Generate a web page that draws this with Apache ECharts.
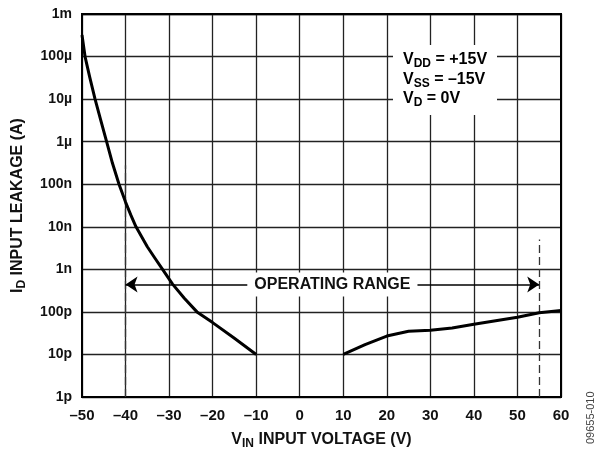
<!DOCTYPE html>
<html><head><meta charset="utf-8">
<script src="https://cdn.jsdelivr.net/npm/echarts@6/dist/echarts.min.js"></script>
<style>html,body{margin:0;padding:0;background:#fff}#c{width:599px;height:450px}</style>
</head><body><div id="c"></div>
<script>
// Data
const xTicks = [-50, -40, -30, -20, -10, 0, 10, 20, 30, 40, 50, 60];
const yTickLabels = ['1p', '10p', '100p', '1n', '10n', '100n', '1µ', '10µ', '100µ', '1m'];
const leftV = [-50, -49.3, -48.2, -47.0, -45.7, -44.35, -43.0, -41.5, -40, -38.8, -37.6, -35, -33.2, -31.5, -29.2, -26.5, -23.6, -20, -15, -10];
const leftI = [3.2e-4, 1e-4, 3.2e-5, 1e-5, 3.2e-6, 1e-6, 3.1e-7, 1e-7, 3.8e-8, 1.9e-8, 1e-8, 3.4e-9, 1.8e-9, 1e-9, 4.5e-10, 2.1e-10, 1e-10, 5.6e-11, 2.4e-11, 1e-11];
const rightV = [10, 15, 20, 25, 30, 35, 40, 45, 50, 55, 60];
const rightI = [1e-11, 1.7e-11, 2.7e-11, 3.5e-11, 3.7e-11, 4.2e-11, 5.1e-11, 6.2e-11, 7.5e-11, 9.5e-11, 1.08e-10];
const rangeStart = -40, rangeEnd = 55, rangeMid = 7.5;
const rangeLevel = 4.4e-10;
const dashTopLeft = 2.8e-7, dashTopRight = 5e-9;
const conditions = ['{m|V}{s|DD}{m| = +15V}', '{m|V}{s|SS}{m| = –15V}', '{m|V}{s|D}{m| = 0V}'];

const font = 'Liberation Sans, Arial, sans-serif';
const chart = echarts.init(document.getElementById('c'));
const fmtX = v => v < 0 ? '–' + Math.abs(v) : String(v);
const fmtY = v => yTickLabels[Math.round(Math.log10(v)) + 12] || '';
const subRich = {
  m: {fontFamily: font, fontWeight: 'bold', fontSize: 16, color: '#111'},
  s: {fontFamily: font, fontWeight: 'bold', fontSize: 12, color: '#111', padding: [8, 0, 0, 0]}
};

chart.setOption({
  animation: false,
  grid: {left: 82, right: 38, top: 14, bottom: 53, show: true, borderColor: '#000', borderWidth: 2, z: 3,
         containLabel: false, outerBoundsMode: 'none'},
  xAxis: {
    type: 'value', min: -50, max: 60, interval: 10,
    axisLine: {show: false}, axisTick: {show: false},
    axisLabel: {formatter: fmtX, fontFamily: font, fontWeight: 'bold', fontSize: 15, color: '#111', margin: 11},
    splitLine: {show: true, lineStyle: {color: '#222', width: 1.3}},
    name: '{m|V}{s|IN}{m| INPUT VOLTAGE (V)}', nameLocation: 'middle', nameGap: 33,
    nameTextStyle: {rich: subRich}
  },
  yAxis: {
    type: 'log', logBase: 10, min: 1e-12, max: 1e-3, interval: 1,
    axisLine: {show: false}, axisTick: {show: false},
    axisLabel: {formatter: fmtY, fontFamily: font, fontWeight: 'bold', fontSize: 14, color: '#111', margin: 10},
    splitLine: {show: true, lineStyle: {color: '#222', width: 1.3}},
    name: '{m|I}{s|D}{m| INPUT LEAKAGE (A)}', nameLocation: 'middle', nameGap: 54, nameRotate: 90,
    nameTextStyle: {rich: subRich}
  },
  series: [
    {type: 'line', data: leftV.map((v, i) => [v, leftI[i]]), smooth: false, symbol: 'none',
     lineStyle: {color: '#000', width: 3, join: 'round'}, z: 5},
    {type: 'line', data: rightV.map((v, i) => [v, rightI[i]]), smooth: false, symbol: 'none',
     lineStyle: {color: '#000', width: 3, join: 'round'}, z: 5,
     markLine: {
       silent: true, symbol: ['none', 'none'], animation: false,
       lineStyle: {color: '#333', width: 1.3, type: [8, 4]},
       label: {show: false},
       data: [
         [{coord: [rangeStart, 1e-12]}, {coord: [rangeStart, dashTopLeft]}],
         [{coord: [rangeEnd, 1e-12]}, {coord: [rangeEnd, dashTopRight]}]
       ]
     }},
    {type: 'line', data: [], z: 6,
     markLine: {
       silent: true, symbol: ['arrow', 'arrow'], symbolSize: [12, 12], animation: false,
       lineStyle: {color: '#000', width: 1.5, type: 'solid'},
       label: {show: false},
       data: [[{coord: [rangeStart, rangeLevel]}, {coord: [rangeEnd, rangeLevel]}]]
     },
     markPoint: {
       silent: true, symbol: 'rect', symbolSize: 0, animation: false,
       label: {show: true, position: 'inside', formatter: 'OPERATING RANGE',
               fontFamily: font, fontWeight: 'bold', fontSize: 16, color: '#111',
               backgroundColor: '#fff', padding: [4, 7]},
       data: [{coord: [rangeMid, rangeLevel]}]
     }}
  ],
  graphic: [
    {type: 'rect', z: 50, shape: {x: 393, y: 45, width: 104, height: 70}, style: {fill: '#fff'}},
    {type: 'text', z: 51, left: 403, top: 50,
     style: {text: conditions.join('\n'), rich: {
       m: {fontFamily: font, fontWeight: 'bold', fontSize: 16, color: '#111', lineHeight: 19.5},
       s: {fontFamily: font, fontWeight: 'bold', fontSize: 12, color: '#111', padding: [8, 0, 0, 0], lineHeight: 19.5}
     }}},
    {type: 'text', z: 51, x: 591, y: 444, rotation: Math.PI / 2,
     style: {text: '09655-010', font: '11px ' + font, fill: '#444', textVerticalAlign: 'middle'}}
  ]
});
</script></body></html>
